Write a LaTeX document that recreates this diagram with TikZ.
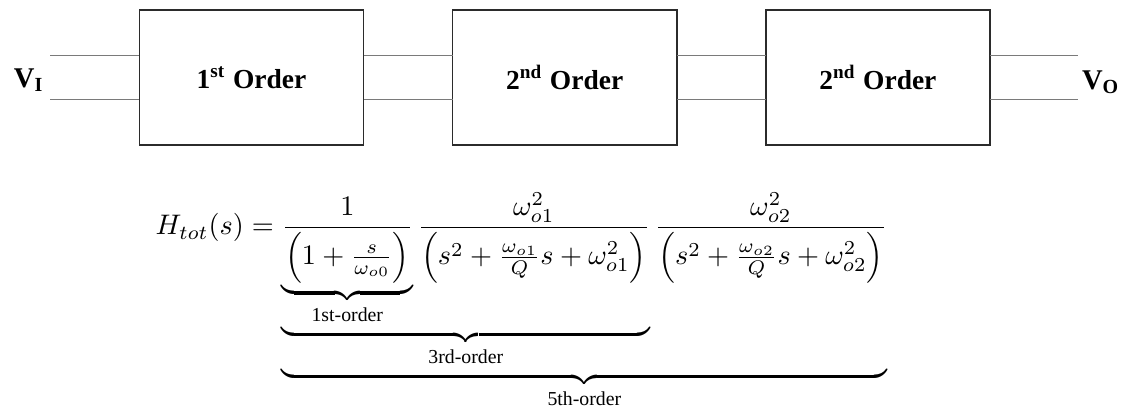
\documentclass[tikz,border=0pt]{standalone}
\usepackage{amsmath}
\usepackage{fontspec}
\usepackage{tikz}
\usetikzlibrary{positioning}
\newfontfamily\tnr{Liberation Serif}
\definecolor{blkLine}{HTML}{2B2B2B}
\definecolor{wireGray}{HTML}{7A7A7A}
\newcommand\ordlabel[1]{\text{\tnr\fontsize{7}{8}\selectfont #1}}

\begin{document}
\begin{tikzpicture}[
  x=0.273pt, y=-0.273pt,
  node distance=24.3pt,
  block/.style={draw=blkLine, line width=0.4pt, outer sep=0pt, minimum width=61.2pt,
                minimum height=36.9pt, font=\tnr\bfseries\fontsize{7.5}{9}\selectfont},
  port/.style={font=\tnr\bfseries\fontsize{7.8}{9}\selectfont},
  wire/.style={draw=wireGray, line width=0.4pt}
]
\useasboundingbox (0,0) rectangle (1124,407);

\node[block] (first) at (251.5,77.5) {1\textsuperscript{st} Order};
\node[block, right=of first] (second) {2\textsuperscript{nd} Order};
\node[block, right=of second] (third) {2\textsuperscript{nd} Order};

\coordinate (vin) at (50,77.5);
\coordinate (vout) at (1078,77.5);
\node[port] (vi) at (29,80) {V\textsubscript{I}};
\node[port] (vo) at (1101,82) {V\textsubscript{O}};

\foreach \dy in {6pt,-6pt} {
  \draw[wire] ([yshift=\dy]vin) -- ([yshift=\dy]first.west);
  \draw[wire] ([yshift=\dy]first.east) -- ([yshift=\dy]second.west);
  \draw[wire] ([yshift=\dy]second.east) -- ([yshift=\dy]third.west);
  \draw[wire] ([yshift=\dy]third.east) -- ([yshift=\dy]vout);
}

\node[anchor=base west, inner sep=0pt, scale=0.772, transform shape] (htot) at (155,235) {$\displaystyle
  H_{tot}(s)=\underbrace{\underbrace{\underbrace{\frac{1}{\left(1+\frac{s}{\omega_{o0}}\right)}}_{\ordlabel{1st-order}}
  \frac{\omega_{o1}^2}{\left(s^2+\frac{\omega_{o1}}{Q}s+\omega_{o1}^2\right)}}_{\ordlabel{3rd-order}}
  \frac{\omega_{o2}^2}{\left(s^2+\frac{\omega_{o2}}{Q}s+\omega_{o2}^2\right)}}_{\ordlabel{5th-order}}$};

\end{tikzpicture}
\end{document}
